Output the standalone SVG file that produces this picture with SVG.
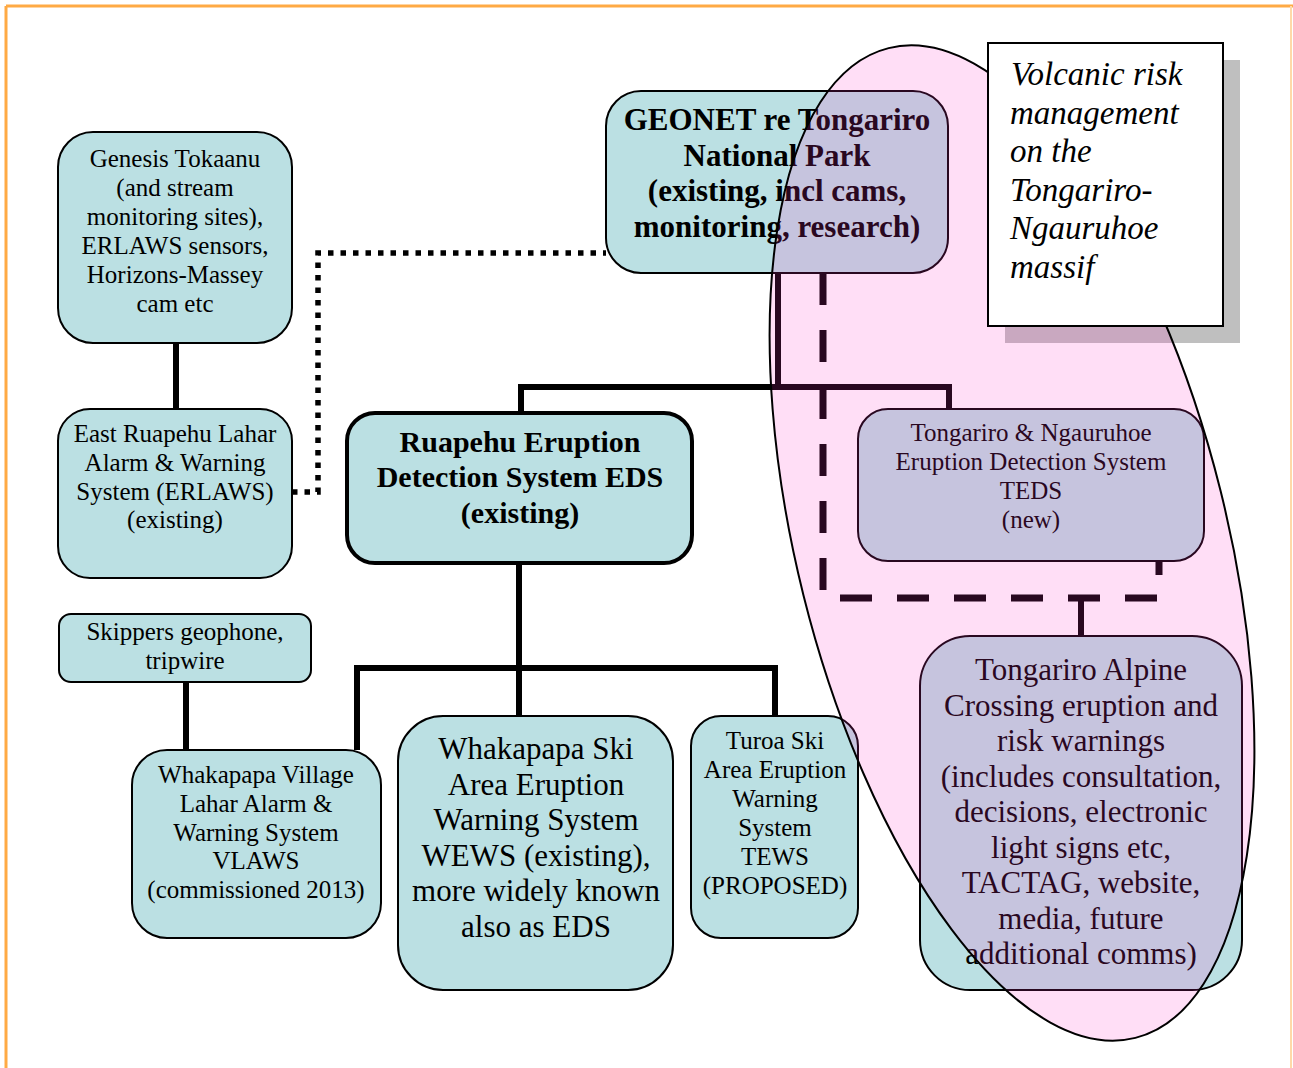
<svg xmlns="http://www.w3.org/2000/svg" width="1293" height="1068" viewBox="0 0 1293 1068">
<style>
.box{fill:#BBE0E3;stroke:#000;stroke-width:2}
.boxb{fill:#BBE0E3;stroke:#000;stroke-width:4}
.t{font-family:"Liberation Serif","Times New Roman",serif;fill:#000;text-anchor:middle}
.s25{font-size:25px}
.s31{font-size:31px}
.b{font-weight:bold}
.solid{fill:none;stroke:#000;stroke-width:6}
.vi{font-family:"Liberation Serif","Times New Roman",serif;font-style:italic;font-size:33px;fill:#000}
</style>
<rect x="0" y="0" width="1293" height="1068" fill="#fff"/>
<g id="frame">
<line x1="6" y1="6" x2="1293" y2="6" stroke="#FFAA44" stroke-width="3"/>
<line x1="6" y1="6" x2="6" y2="1068" stroke="#FFAA44" stroke-width="3"/>
<line x1="1291" y1="6" x2="1291" y2="1068" stroke="#FFD9A8" stroke-width="2"/>
</g>
<g id="connectors">
<polyline class="solid" stroke-width="5.5" points="176,343 176,409"/>
<polyline fill="none" stroke="#000" stroke-width="5.5" stroke-dasharray="5.5 7" points="292,492 318,492 318,253 606,253"/>
<polyline class="solid" points="521,413 521,387 949,387 949,409"/>
<polyline class="solid" points="778,273 778,387"/>
<polyline class="solid" points="519,563 519,716"/>
<polyline class="solid" points="357,750 357,668 775,668 775,716"/>
<polyline class="solid" points="186,682 186,750"/>
<polyline fill="none" stroke="#000" stroke-width="7" stroke-dasharray="32 25" points="823,273 823,598 1159,598 1159,561"/>
<polyline class="solid" points="1081,598 1081,636"/>
</g>
<g id="genesis">
<rect class="box" x="58" y="132" width="234" height="211" rx="35"/>
<text class="t s25"><tspan x="175" y="167">Genesis Tokaanu</tspan><tspan x="175" y="196">(and stream</tspan><tspan x="175" y="225">monitoring sites),</tspan><tspan x="175" y="254">ERLAWS sensors,</tspan><tspan x="175" y="283">Horizons-Massey</tspan><tspan x="175" y="312">cam etc</tspan></text>
</g>
<g id="erlaws">
<rect class="box" x="58" y="409" width="234" height="169" rx="32"/>
<text class="t s25"><tspan x="175" y="442">East Ruapehu Lahar</tspan><tspan x="175" y="470.5">Alarm &amp; Warning</tspan><tspan x="175" y="499.5">System (ERLAWS)</tspan><tspan x="175" y="528">(existing)</tspan></text>
</g>
<g id="geonet">
<rect class="box" x="606" y="91" width="342" height="182" rx="35"/>
<text class="t s31 b"><tspan x="777" y="130">GEONET re Tongariro</tspan><tspan x="777" y="165.5">National Park</tspan><tspan x="777" y="201">(existing, incl cams,</tspan><tspan x="777" y="236.5">monitoring, research)</tspan></text>
</g>
<g id="eds">
<rect class="boxb" x="347" y="413" width="345" height="150" rx="28"/>
<text class="t b" font-size="30"><tspan x="520" y="452">Ruapehu Eruption</tspan><tspan x="520" y="487">Detection System EDS</tspan><tspan x="520" y="523">(existing)</tspan></text>
</g>
<g id="teds">
<rect class="box" x="858" y="409" width="346" height="152" rx="30"/>
<text class="t s25"><tspan x="1031" y="440.5">Tongariro &amp; Ngauruhoe</tspan><tspan x="1031" y="469.5">Eruption Detection System</tspan><tspan x="1031" y="498.5">TEDS</tspan><tspan x="1031" y="527.5">(new)</tspan></text>
</g>
<g id="skippers">
<rect class="box" x="59" y="614" width="252" height="68" rx="12"/>
<text class="t s25"><tspan x="185" y="640">Skippers geophone,</tspan><tspan x="185" y="669">tripwire</tspan></text>
</g>
<g id="vlaws">
<rect class="box" x="132" y="750" width="249" height="188" rx="35"/>
<text class="t s25"><tspan x="256" y="783">Whakapapa Village</tspan><tspan x="256" y="812">Lahar Alarm &amp;</tspan><tspan x="256" y="840.5">Warning System</tspan><tspan x="256" y="869">VLAWS</tspan><tspan x="256" y="898">(commissioned 2013)</tspan></text>
</g>
<g id="wews">
<rect class="box" x="398" y="716" width="275" height="274" rx="45"/>
<text class="t s31"><tspan x="536" y="759">Whakapapa Ski</tspan><tspan x="536" y="794.5">Area Eruption</tspan><tspan x="536" y="830">Warning System</tspan><tspan x="536" y="866">WEWS (existing),</tspan><tspan x="536" y="901">more widely known</tspan><tspan x="536" y="937">also as EDS</tspan></text>
</g>
<g id="tews">
<rect class="box" x="691" y="716" width="167" height="222" rx="30"/>
<text class="t s25"><tspan x="775" y="749">Turoa Ski</tspan><tspan x="775" y="778">Area Eruption</tspan><tspan x="775" y="807">Warning</tspan><tspan x="775" y="836">System</tspan><tspan x="775" y="865">TEWS</tspan><tspan x="775" y="894">(PROPOSED)</tspan></text>
</g>
<g id="alpine">
<rect class="box" x="920" y="636" width="322" height="354" rx="50"/>
<text class="t s31"><tspan x="1081" y="680">Tongariro Alpine</tspan><tspan x="1081" y="715.5">Crossing eruption and</tspan><tspan x="1081" y="751">risk warnings</tspan><tspan x="1081" y="787">(includes consultation,</tspan><tspan x="1081" y="822">decisions, electronic</tspan><tspan x="1081" y="857.5">light signs etc,</tspan><tspan x="1081" y="893">TACTAG, website,</tspan><tspan x="1081" y="928.5">media, future</tspan><tspan x="1081" y="964">additional comms)</tspan></text>
</g>
<rect id="note-shadow" x="1005" y="60" width="235" height="283" fill="#BFBFBF"/>
<g id="massif">
<ellipse cx="1012" cy="543" rx="215" ry="510" transform="rotate(-14 1012 543)" fill="#FF30C7" fill-opacity="0.16" stroke="#000" stroke-width="2"/>
</g>
<g id="note">
<rect x="988" y="43" width="235" height="283" fill="#fff" stroke="#000" stroke-width="2"/>
<text class="vi"><tspan x="1011" y="85">Volcanic risk</tspan><tspan x="1010" y="123.5">management</tspan><tspan x="1010" y="162">on the</tspan><tspan x="1010" y="200.5">Tongariro-</tspan><tspan x="1010" y="239">Ngauruhoe</tspan><tspan x="1010" y="278">massif</tspan></text>
</g>
</svg>
